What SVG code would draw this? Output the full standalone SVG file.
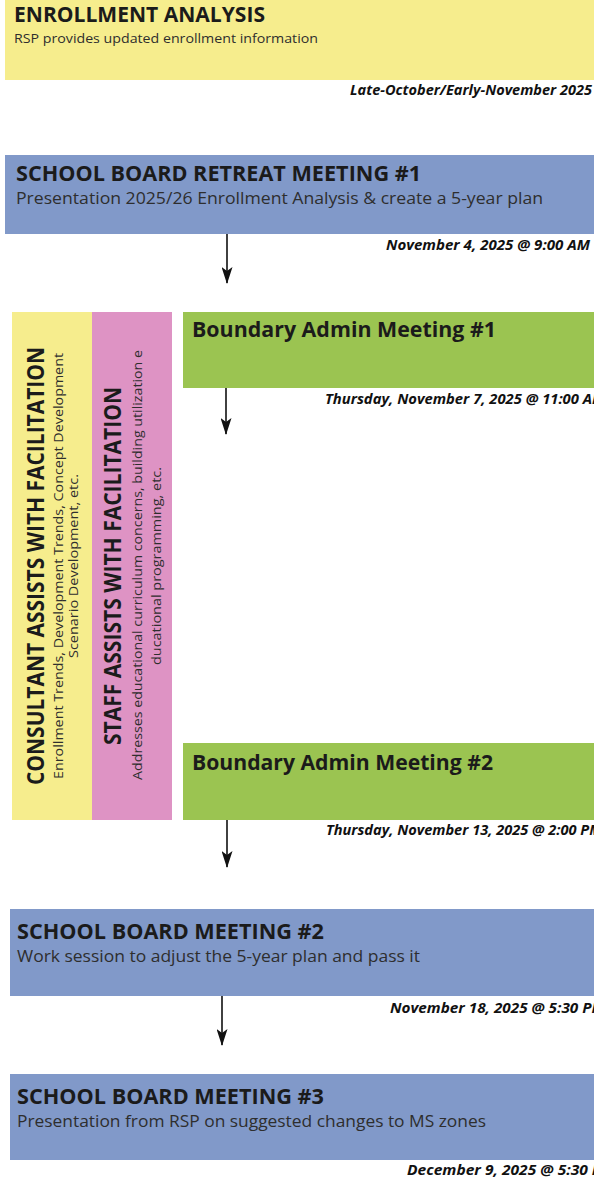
<svg xmlns="http://www.w3.org/2000/svg" width="594" height="1178" viewBox="0 0 594 1178">
<defs>
<style>
.yel{fill:#F6ED8D}
.blu{fill:#8199C9}
.grn{fill:#9BC451}
.pnk{fill:#DE93C4}
.t{font-family:"Open Sans","Liberation Sans",sans-serif;font-weight:bold;fill:#1b1b1b}
.s{font-family:"Open Sans","Liberation Sans",sans-serif;fill:#2e2e2e}
.d{font-family:"Open Sans","Liberation Sans",sans-serif;font-weight:bold;font-style:italic;fill:#111;font-size:14px}
.c{stroke:#111;stroke-width:1.6;fill:none}
</style>
<marker id="ah" markerUnits="userSpaceOnUse" markerWidth="17" markerHeight="11" refX="16" refY="5.5" orient="auto" viewBox="0 0 17 11">
<path d="M0,0 L17,5.5 L0,11 L4,5.5 z" fill="#111"/>
</marker>
</defs>
<rect width="594" height="1178" fill="#fff"/>
<g id="enrollment-analysis">
<rect class="yel" x="5" y="0" width="589" height="80"/>
<text class="t" x="14" y="22" font-size="21" textLength="251" lengthAdjust="spacingAndGlyphs">ENROLLMENT ANALYSIS</text>
<text class="s" x="14" y="42.5" font-size="13.5" textLength="304" lengthAdjust="spacingAndGlyphs">RSP provides updated enrollment information</text>
<text class="d" x="592" y="95" text-anchor="end" textLength="242" lengthAdjust="spacingAndGlyphs">Late-October/Early-November 2025</text>
</g>
<g id="retreat-meeting-1">
<rect class="blu" x="5" y="155" width="589" height="79"/>
<text class="t" x="16" y="181" font-size="22" textLength="405" lengthAdjust="spacingAndGlyphs">SCHOOL BOARD RETREAT MEETING #1</text>
<text class="s" x="16" y="204" font-size="16" textLength="527" lengthAdjust="spacingAndGlyphs">Presentation 2025/26 Enrollment Analysis &amp; create a 5-year plan</text>
<text class="d" x="590" y="250" text-anchor="end" textLength="204" lengthAdjust="spacingAndGlyphs">November 4, 2025 @ 9:00 AM</text>
</g>
<g id="consultant">
<rect class="yel" x="12" y="312" width="80" height="508"/>
<text class="t" transform="translate(43.5,566) rotate(-90)" x="0" y="0" text-anchor="middle" font-size="23" textLength="438" lengthAdjust="spacingAndGlyphs">CONSULTANT ASSISTS WITH FACILITATION</text>
<text class="s" transform="translate(62.5,566) rotate(-90)" x="0" y="0" text-anchor="middle" font-size="13.5" textLength="426" lengthAdjust="spacingAndGlyphs">Enrollment Trends, Development Trends, Concept Development</text>
<text class="s" transform="translate(78,566) rotate(-90)" x="0" y="0" text-anchor="middle" font-size="13.5" textLength="184" lengthAdjust="spacingAndGlyphs">Scenario Development, etc.</text>
</g>
<g id="staff">
<rect class="pnk" x="92" y="312" width="80" height="508"/>
<text class="t" transform="translate(121,566) rotate(-90)" x="0" y="0" text-anchor="middle" font-size="23" textLength="358" lengthAdjust="spacingAndGlyphs">STAFF ASSISTS WITH FACILITATION</text>
<text class="s" transform="translate(141.5,565) rotate(-90)" x="0" y="0" text-anchor="middle" font-size="13.5" textLength="430" lengthAdjust="spacingAndGlyphs">Addresses educational curriculum concerns, building utilization e</text>
<text class="s" transform="translate(160.5,566) rotate(-90)" x="0" y="0" text-anchor="middle" font-size="13.5" textLength="198" lengthAdjust="spacingAndGlyphs">ducational programming, etc.</text>
</g>
<g id="boundary-admin-1">
<rect class="grn" x="183" y="312" width="411" height="76"/>
<text class="t" x="192" y="337" font-size="22" textLength="304" lengthAdjust="spacingAndGlyphs">Boundary Admin Meeting #1</text>
<text class="d" x="325" y="404" textLength="280" lengthAdjust="spacingAndGlyphs">Thursday, November 7, 2025 @ 11:00 AM</text>
</g>
<g id="boundary-admin-2">
<rect class="grn" x="183" y="743" width="411" height="77"/>
<text class="t" x="192" y="770" font-size="22" textLength="301" lengthAdjust="spacingAndGlyphs">Boundary Admin Meeting #2</text>
<text class="d" x="326" y="835" textLength="276" lengthAdjust="spacingAndGlyphs">Thursday, November 13, 2025 @ 2:00 PM</text>
</g>
<g id="board-meeting-2">
<rect class="blu" x="10" y="909" width="584" height="87"/>
<text class="t" x="17" y="939" font-size="22" textLength="307" lengthAdjust="spacingAndGlyphs">SCHOOL BOARD MEETING #2</text>
<text class="s" x="17" y="962" font-size="16" textLength="403" lengthAdjust="spacingAndGlyphs">Work session to adjust the 5-year plan and pass it</text>
<text class="d" x="390" y="1013" textLength="215" lengthAdjust="spacingAndGlyphs">November 18, 2025 @ 5:30 PM</text>
</g>
<g id="board-meeting-3">
<rect class="blu" x="10" y="1074" width="584" height="86"/>
<text class="t" x="17" y="1104" font-size="22" textLength="307" lengthAdjust="spacingAndGlyphs">SCHOOL BOARD MEETING #3</text>
<text class="s" x="17" y="1127" font-size="16" textLength="469" lengthAdjust="spacingAndGlyphs">Presentation from RSP on suggested changes to MS zones</text>
<text class="d" x="407" y="1175" textLength="208" lengthAdjust="spacingAndGlyphs">December 9, 2025 @ 5:30 PM</text>
</g>
<g id="connectors">
<line class="c" x1="227" y1="234" x2="227" y2="283" marker-end="url(#ah)"/>
<line class="c" x1="226" y1="388" x2="226" y2="434" marker-end="url(#ah)"/>
<line class="c" x1="227" y1="820" x2="227" y2="867" marker-end="url(#ah)"/>
<line class="c" x1="222" y1="996" x2="222" y2="1045" marker-end="url(#ah)"/>
</g>
</svg>
